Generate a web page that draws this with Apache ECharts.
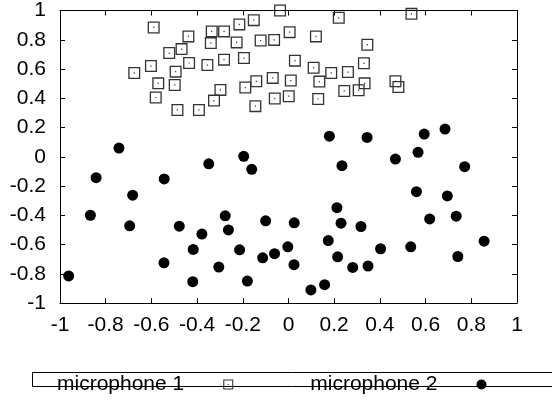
<!DOCTYPE html>
<html>
<head>
<meta charset="utf-8">
<script src="https://cdn.jsdelivr.net/npm/echarts@6/dist/echarts.min.js"></script>
<style>
  html, body { margin: 0; padding: 0; background: #fff; }
  #chart { width: 552px; height: 400px; }
</style>
</head>
<body>
<div id="chart"></div>
<script>
  // tick values on both axes
  var xTicks = [-1, -0.8, -0.6, -0.4, -0.2, 0, 0.2, 0.4, 0.6, 0.8, 1];
  var yTicks = [-1, -0.8, -0.6, -0.4, -0.2, 0, 0.2, 0.4, 0.6, 0.8, 1];

  var seriesNames = ['microphone 1', 'microphone 2'];

  // microphone 1 : [x, y]
  var mic1 = [
    [-0.590, 0.884], [-0.675, 0.573], [-0.602, 0.620], [-0.570, 0.502], [-0.581, 0.405],
    [-0.522, 0.709], [-0.468, 0.736], [-0.494, 0.582], [-0.498, 0.491], [-0.486, 0.320],
    [-0.438, 0.823], [-0.435, 0.641], [-0.392, 0.320], [-0.355, 0.627], [-0.326, 0.384],
    [-0.336, 0.857], [-0.340, 0.777], [-0.282, 0.857], [-0.298, 0.457], [-0.282, 0.664],
    [-0.215, 0.905], [-0.227, 0.782], [-0.195, 0.675], [-0.152, 0.934], [-0.189, 0.473],
    [-0.141, 0.516], [-0.145, 0.346], [-0.122, 0.795], [-0.063, 0.799], [-0.069, 0.539],
    [-0.060, 0.398], [-0.037, 1.000], [0.220, 0.950], [0.538, 0.977], [0.005, 0.852],
    [0.120, 0.823], [0.345, 0.766], [0.028, 0.657], [0.110, 0.609], [0.187, 0.573],
    [0.260, 0.579], [0.330, 0.639], [0.010, 0.521], [0.135, 0.514], [0.333, 0.502],
    [0.244, 0.450], [0.307, 0.455], [0.468, 0.516], [0.481, 0.477], [0.001, 0.414],
    [0.130, 0.395]
  ];

  // microphone 2 : [x, y]
  var mic2 = [
    [-0.742, 0.059], [-0.842, -0.143], [-0.349, -0.048], [-0.196, 0.003], [-0.161, -0.086],
    [-0.544, -0.152], [-0.682, -0.263], [-0.867, -0.400], [-0.695, -0.472], [-0.478, -0.475],
    [-0.379, -0.529], [-0.277, -0.404], [-0.263, -0.500], [-0.100, -0.438], [-0.417, -0.634],
    [-0.214, -0.636], [-0.113, -0.691], [-0.061, -0.663], [-0.545, -0.725], [-0.305, -0.754],
    [-0.419, -0.854], [-0.180, -0.850], [-0.962, -0.815],
    [0.179, 0.141], [0.344, 0.132], [0.594, 0.155], [0.685, 0.189], [0.468, -0.016],
    [0.567, 0.030], [0.234, -0.061], [0.771, -0.068], [0.560, -0.239], [0.695, -0.268],
    [0.212, -0.348], [0.025, -0.452], [0.230, -0.454], [0.317, -0.477], [0.618, -0.425],
    [0.734, -0.406], [0.856, -0.577], [0.174, -0.573], [-0.003, -0.616], [0.403, -0.629],
    [0.535, -0.616], [0.215, -0.684], [0.741, -0.682], [0.024, -0.738], [0.281, -0.757],
    [0.348, -0.747], [0.158, -0.875], [0.098, -0.911]
  ];

  var font = "'Liberation Sans', Arial, sans-serif";
  // hollow square with a dot in the middle (gnuplot point type)
  var boxDot = 'path://M0,0H12V12H0Z M1.3,1.3V10.7H10.7V1.3Z M5.4,5.4H6.6V6.6H5.4Z';

  function fmt(v) { return String(+v.toFixed(1)); }

  var tickStep = xTicks[1] - xTicks[0];

  function axisBase(extra) {
    var a = {
      type: 'value',
      min: xTicks[0],
      max: xTicks[xTicks.length - 1],
      interval: tickStep,
      axisLine: { show: true, onZero: false, lineStyle: { color: '#000', width: 1 } },
      axisTick: { show: true, inside: true, length: 5, lineStyle: { color: '#000' } },
      splitLine: { show: false },
      axisLabel: { show: false }
    };
    for (var k in extra) a[k] = extra[k];
    return a;
  }

  var chart = echarts.init(document.getElementById('chart'), null, { renderer: 'canvas' });
  chart.setOption({
    animation: false,
    backgroundColor: '#fff',
    textStyle: { fontFamily: font, color: '#000' },
    grid: { left: 60, right: 35, top: 10, bottom: 97, containLabel: false },
    xAxis: [
      axisBase({
        position: 'bottom',
        axisLabel: {
          show: true, color: '#000', fontFamily: font, fontSize: 21, margin: 12,
          formatter: fmt, showMinLabel: true, showMaxLabel: true
        }
      }),
      axisBase({ position: 'top' })
    ],
    yAxis: [
      axisBase({
        position: 'left',
        min: yTicks[0], max: yTicks[yTicks.length - 1],
        axisLabel: {
          show: true, color: '#000', fontFamily: font, fontSize: 21, margin: 14,
          formatter: fmt, showMinLabel: true, showMaxLabel: true
        }
      }),
      axisBase({ position: 'right', min: yTicks[0], max: yTicks[yTicks.length - 1] })
    ],
    legend: {
      left: 57,
      top: 374,
      align: 'right',
      itemGap: 77,
      itemWidth: 10,
      itemHeight: 10,
      padding: 0,
      textStyle: { fontFamily: font, fontSize: 21, color: '#000', padding: [0, 34, 0, 0] },
      data: [
        { name: seriesNames[0], icon: boxDot, itemStyle: { color: '#333' } },
        { name: seriesNames[1], icon: 'circle', itemStyle: { color: '#000' } }
      ]
    },
    graphic: [{
      type: 'rect',
      shape: { x: 32.5, y: 372.5, width: 530, height: 14 },
      style: { fill: 'none', stroke: '#000', lineWidth: 1 },
      z: -1
    }],
    series: [
      {
        name: seriesNames[0],
        type: 'scatter',
        data: mic1,
        symbol: boxDot,
        symbolSize: 12,
        itemStyle: { color: '#333', opacity: 1 }
      },
      {
        name: seriesNames[1],
        type: 'scatter',
        data: mic2,
        symbol: 'circle',
        symbolSize: 11,
        itemStyle: { color: '#000', opacity: 1 }
      }
    ]
  });
</script>
</body>
</html>
